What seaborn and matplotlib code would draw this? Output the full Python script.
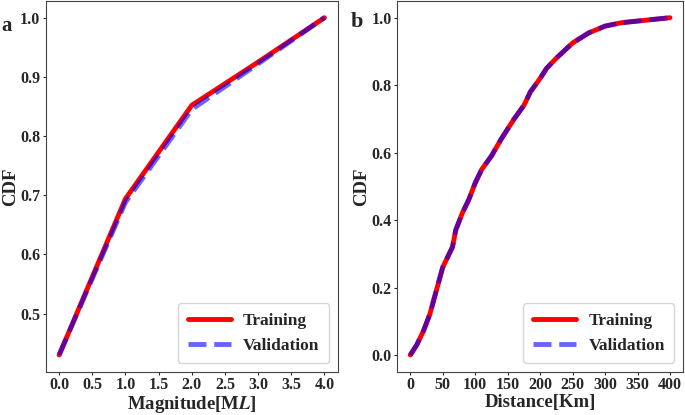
import pandas as pd
import matplotlib

matplotlib.use("Agg")
import matplotlib.pyplot as plt
import seaborn as sns

# panel a: magnitude CDF
mag = [0.0, 1.0, 2.0, 3.0, 4.0]
mag_train = [0.43, 0.694, 0.852, 0.925, 1.0]
mag_valid = [0.43, 0.688, 0.845, 0.922, 1.0]

# panel b: distance CDF
dist = [0, 10, 20, 30, 40, 50, 60, 65, 70, 80, 90, 100, 110, 125, 140, 150,
        160, 175, 185, 200, 210, 225, 250, 275, 300, 325, 350, 375, 400]
dist_train = [0.0, 0.03, 0.07, 0.12, 0.19, 0.26, 0.30, 0.32, 0.37, 0.42, 0.46,
              0.51, 0.55, 0.59, 0.64, 0.67, 0.70, 0.74, 0.78, 0.82, 0.85, 0.88,
              0.925, 0.955, 0.975, 0.985, 0.99, 0.995, 1.0]
dist_valid = list(dist_train)

sns.set_style("ticks")
plt.rcParams["font.family"] = ["Liberation Serif", "DejaVu Serif"]
plt.rcParams["font.weight"] = "bold"
plt.rcParams["mathtext.fontset"] = "stix"


def draw_panel(ax, x, train, valid, xlabel):
    df_t = pd.DataFrame({"x": x, "cdf": train})
    df_v = pd.DataFrame({"x": x, "cdf": valid})
    sns.lineplot(data=df_t, x="x", y="cdf", ax=ax, color="red", lw=3.5,
                 label="Training")
    sns.lineplot(data=df_v, x="x", y="cdf", ax=ax, color="blue", alpha=0.6,
                 lw=3.5, linestyle="--", label="Validation")
    ax.set_xlabel(xlabel, fontsize=13.5, fontweight="bold", labelpad=0.5)
    ax.set_ylabel("CDF", fontsize=13.5, fontweight="bold", labelpad=1)
    ax.tick_params(labelsize=11.5, length=2, pad=2)
    for lab in ax.get_xticklabels() + ax.get_yticklabels():
        lab.set_fontweight("bold")
    for sp in ax.spines.values():
        sp.set_color("#444444")
    ax.legend(loc="lower right", prop={"weight": "bold", "size": 12.5},
              handlelength=2.5, handletextpad=0.7, borderpad=0.55)


fig = plt.figure(figsize=(6.85, 4.15), dpi=100)
ax1 = fig.add_axes([0.067, 0.104, 0.426, 0.894])
ax2 = fig.add_axes([0.58, 0.104, 0.417, 0.894])

draw_panel(ax1, mag, mag_train, mag_valid, r"Magnitude[M$\mathbfit{L}$]")
ax1.set_xticks([0.0, 0.5, 1.0, 1.5, 2.0, 2.5, 3.0, 3.5, 4.0])
ax1.set_xticklabels(["0.0", "0.5", "1.0", "1.5", "2.0", "2.5", "3.0", "3.5", "4.0"])
ax1.set_yticks([0.5, 0.6, 0.7, 0.8, 0.9, 1.0])

draw_panel(ax2, dist, dist_train, dist_valid, "Distance[Km]")
ax2.set_xticks([0, 50, 100, 150, 200, 250, 300, 350, 400])
ax2.set_yticks([0.0, 0.2, 0.4, 0.6, 0.8, 1.0])

fig.text(0.002, 0.925, "a", fontsize=15, fontweight="bold")
fig.text(0.512, 0.935, "b", fontsize=16, fontweight="bold")

fig.savefig("out.png", dpi=100)
